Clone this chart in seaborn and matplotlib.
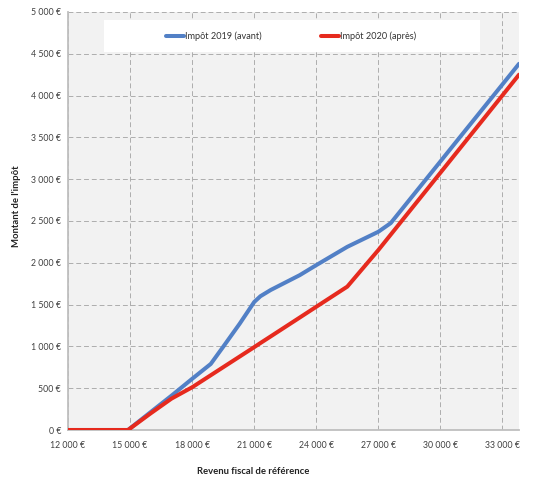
import pandas as pd
import numpy as np
import matplotlib.pyplot as plt
import seaborn as sns
from matplotlib.patches import Rectangle
from matplotlib.ticker import FuncFormatter

# --- data ---
revenu = [12000, 14900, 16000, 17000, 18000, 18900, 19500, 20300, 21000, 21300, 21800,
          23200, 24000, 25500, 27000, 27600, 29000, 30000, 31000, 32000, 33000, 33800]
impot_2019 = [0, 0, 215, 410, 612, 790, 995, 1272, 1531, 1600, 1675,
              1852, 1972, 2191, 2371, 2475, 2905, 3212, 3520, 3827, 4134, 4380]
impot_2020 = [0, 0, 200, 375, 511, 655, 751, 879, 991, 1040, 1120,
              1345, 1474, 1715, 2152, 2337, 2769, 3077, 3386, 3694, 4003, 4250]
labels = ["Impôt 2019 (avant)", "Impôt 2020 (après)"]
colors = ["#5280C6", "#E62A1E"]

df = pd.concat([
    pd.DataFrame({"revenu": revenu, "impot": impot_2019, "serie": labels[0]}),
    pd.DataFrame({"revenu": revenu, "impot": impot_2020, "serie": labels[1]}),
])

sns.set_theme(style="white")
plt.rcParams['font.family'] = ['Lato', 'DejaVu Sans']

fig = plt.figure(figsize=(5.33, 4.78), dpi=100)
ax = fig.add_axes([68 / 533, 48 / 478, 451 / 533, 418 / 478])
ax.set_facecolor('#F2F2F2')

sns.lineplot(data=df, x="revenu", y="impot", hue="serie", palette=colors,
             estimator=None, linewidth=2.9, ax=ax, legend=True, zorder=3)

ax.set_xlim(12000, 33800)
ax.set_ylim(0, 5000)
ax.set_xticks(range(12000, 34000, 3000))
ax.set_yticks(range(0, 5001, 500))
euro = FuncFormatter(lambda v, p: f"{int(v):,}".replace(",", " ") + " €")
ax.xaxis.set_major_formatter(euro)
ax.yaxis.set_major_formatter(euro)
ax.tick_params(axis='both', length=0, labelsize=6.3, labelcolor='#404040')
ax.tick_params(axis='x', pad=8)
ax.tick_params(axis='y', pad=5)

ax.grid(True, color='#ADADAD', linestyle=(0, (5, 3)), linewidth=0.7, zorder=0)
ax.set_axisbelow(True)
for s in ['top', 'right']:
    ax.spines[s].set_visible(False)
for s in ['left', 'bottom']:
    ax.spines[s].set_color('#BFBFBF')
    ax.spines[s].set_linewidth(1.3)

ax.set_xlabel("Revenu fiscal de référence", fontsize=6.8, fontweight='bold', color='#222222')
ax.xaxis.set_label_coords(0.41, -0.088)
ax.set_ylabel("Montant de l'impôt", fontsize=6.8, fontweight='bold', color='#222222')
ax.yaxis.set_label_coords(-0.105, 0.536)

# white legend box
ax.add_patch(Rectangle((36 / 451, 378 / 418), 376 / 451, 32 / 418, transform=ax.transAxes,
                       facecolor='white', edgecolor='none', zorder=2))
handles, labs = ax.get_legend_handles_labels()
ax.legend(handles, labs, ncol=2, frameon=False, loc='center',
          bbox_to_anchor=(223 / 451, 394 / 418), fontsize=6.6,
          handlelength=2.0, handletextpad=0.1, columnspacing=6.5,
          labelcolor='#333333')

plt.savefig("out.png", dpi=100)
